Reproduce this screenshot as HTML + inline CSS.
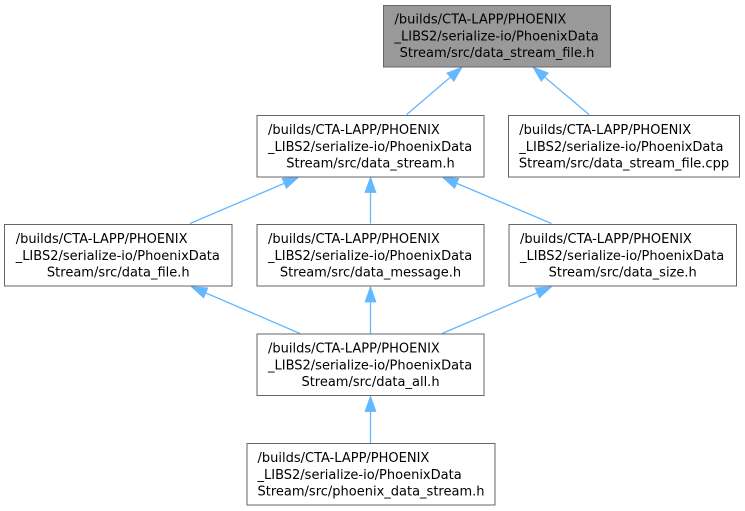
<!DOCTYPE html>
<html>
<head>
<meta charset="utf-8">
<style>
html,body{margin:0;padding:0;background:#fff;}
svg{display:block;}
text{font-family:"DejaVu Sans","Liberation Sans",sans-serif;font-size:13px;fill:#000;}
</style>
</head>
<body>
<svg width="745" height="511" viewBox="0 0 745 511" xmlns="http://www.w3.org/2000/svg">
<defs>
<marker id="ah" markerUnits="userSpaceOnUse" markerWidth="20" markerHeight="20" refX="13.3" refY="0" orient="auto" viewBox="-2 -8 18 16">
<path d="M0,-4.7 L13.3,0 L0,4.7 Z" fill="#63b8ff" stroke="#63b8ff" stroke-width="1"/>
</marker>
</defs>
<rect x="0" y="0" width="745" height="511" fill="#fff"/>

<!-- edges -->
<g stroke="#63b8ff" stroke-width="1.3" fill="none">
<line x1="406.7" y1="114.5" x2="461.7" y2="67.5" marker-end="url(#ah)"/>
<line x1="589" y1="114.5" x2="533.3" y2="67.5" marker-end="url(#ah)"/>
<line x1="190" y1="223.5" x2="298" y2="177.5" marker-end="url(#ah)"/>
<line x1="370.5" y1="223.5" x2="370.5" y2="177.5" marker-end="url(#ah)"/>
<line x1="551.5" y1="223.5" x2="443" y2="177.5" marker-end="url(#ah)"/>
<line x1="300" y1="333.5" x2="192" y2="287" marker-end="url(#ah)"/>
<line x1="370.5" y1="333.5" x2="370.5" y2="287" marker-end="url(#ah)"/>
<line x1="442" y1="333.5" x2="551" y2="287" marker-end="url(#ah)"/>
<line x1="370.5" y1="443" x2="370.5" y2="396.5" marker-end="url(#ah)"/>
</g>

<!-- top node -->
<rect x="383.5" y="5.5" width="227" height="61.5" fill="#999999" stroke="#666666" stroke-width="1"/>
<text x="394.5" y="23.7">/builds/CTA-LAPP/PHOENIX</text>
<text x="394.5" y="40.3">_LIBS2/serialize-io/PhoenixData</text>
<text x="497" y="57" text-anchor="middle">Stream/src/data_stream_file.h</text>

<!-- data_stream.h -->
<rect x="257" y="115.5" width="227" height="61.5" fill="#fff" stroke="#666666" stroke-width="1"/>
<text x="268" y="134.2">/builds/CTA-LAPP/PHOENIX</text>
<text x="268" y="150.8">_LIBS2/serialize-io/PhoenixData</text>
<text x="370.5" y="167.5" text-anchor="middle">Stream/src/data_stream.h</text>

<!-- data_stream_file.cpp -->
<rect x="508.5" y="115.5" width="231" height="61.5" fill="#fff" stroke="#666666" stroke-width="1"/>
<text x="519.3" y="134.2">/builds/CTA-LAPP/PHOENIX</text>
<text x="519.3" y="150.8">_LIBS2/serialize-io/PhoenixData</text>
<text x="624" y="167.5" text-anchor="middle">Stream/src/data_stream_file.cpp</text>

<!-- data_file.h -->
<rect x="4.5" y="224.5" width="227.5" height="61.5" fill="#fff" stroke="#666666" stroke-width="1"/>
<text x="15.7" y="243.2">/builds/CTA-LAPP/PHOENIX</text>
<text x="15.7" y="259.8">_LIBS2/serialize-io/PhoenixData</text>
<text x="118.3" y="276.5" text-anchor="middle">Stream/src/data_file.h</text>

<!-- data_message.h -->
<rect x="257" y="224.5" width="227" height="61.5" fill="#fff" stroke="#666666" stroke-width="1"/>
<text x="268" y="243.2">/builds/CTA-LAPP/PHOENIX</text>
<text x="268" y="259.8">_LIBS2/serialize-io/PhoenixData</text>
<text x="370.5" y="276.5" text-anchor="middle">Stream/src/data_message.h</text>

<!-- data_size.h -->
<rect x="509" y="224.5" width="227.5" height="61.5" fill="#fff" stroke="#666666" stroke-width="1"/>
<text x="520" y="243.2">/builds/CTA-LAPP/PHOENIX</text>
<text x="520" y="259.8">_LIBS2/serialize-io/PhoenixData</text>
<text x="622.7" y="276.5" text-anchor="middle">Stream/src/data_size.h</text>

<!-- data_all.h -->
<rect x="257" y="334" width="227" height="61.5" fill="#fff" stroke="#666666" stroke-width="1"/>
<text x="268" y="352.7">/builds/CTA-LAPP/PHOENIX</text>
<text x="268" y="369.3">_LIBS2/serialize-io/PhoenixData</text>
<text x="370.5" y="386" text-anchor="middle">Stream/src/data_all.h</text>

<!-- phoenix_data_stream.h -->
<rect x="247" y="443.5" width="248" height="61.5" fill="#fff" stroke="#666666" stroke-width="1"/>
<text x="257.5" y="462.2">/builds/CTA-LAPP/PHOENIX</text>
<text x="257.5" y="478.8">_LIBS2/serialize-io/PhoenixData</text>
<text x="371" y="495.5" text-anchor="middle">Stream/src/phoenix_data_stream.h</text>
</svg>
</body>
</html>
